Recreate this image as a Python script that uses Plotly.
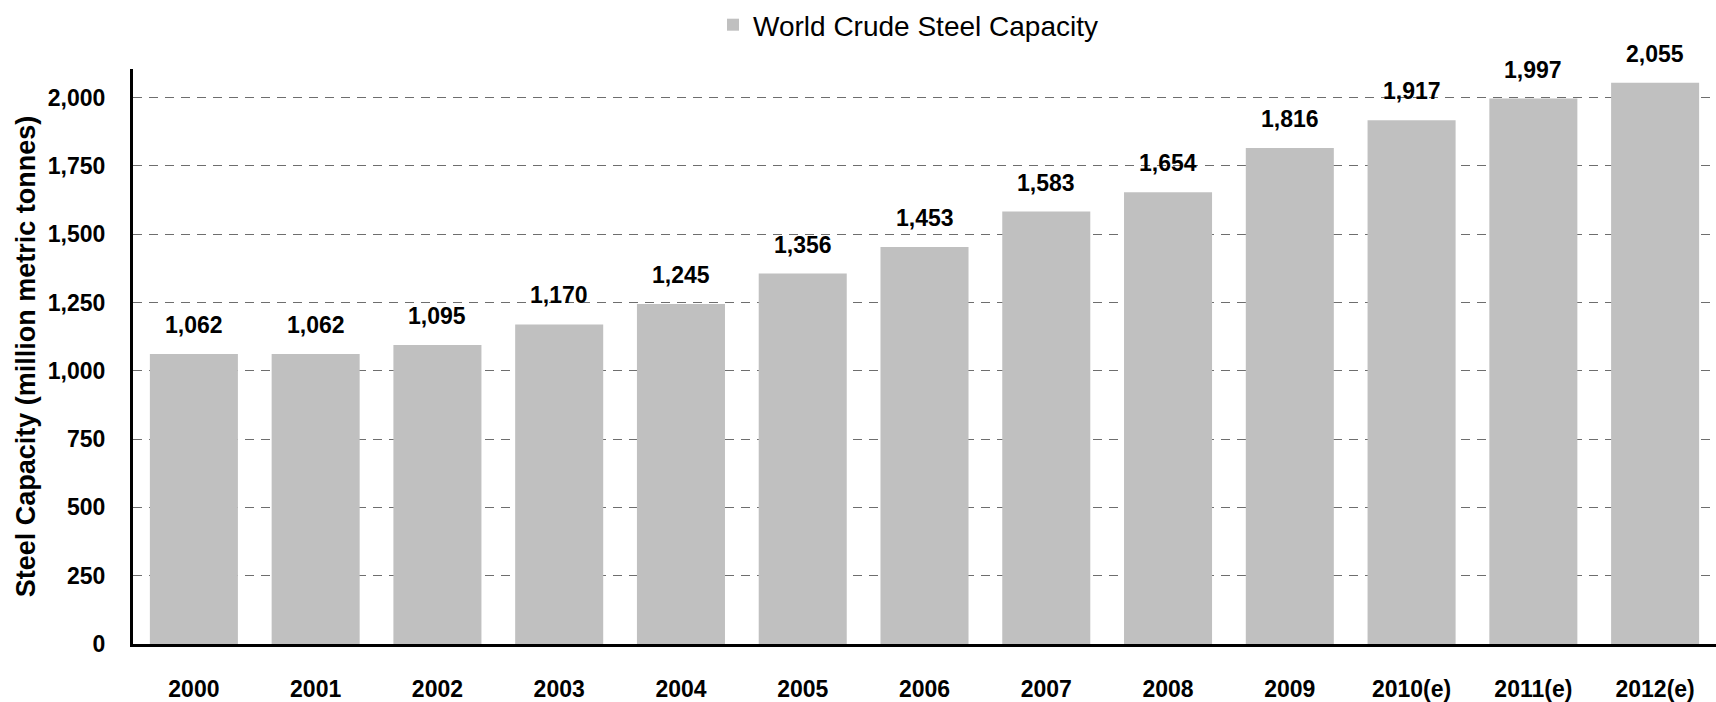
import plotly.graph_objects as go

# World crude steel capacity, million metric tonnes
years = ["2000", "2001", "2002", "2003", "2004", "2005", "2006",
         "2007", "2008", "2009", "2010(e)", "2011(e)", "2012(e)"]
capacity = [1062, 1062, 1095, 1170, 1245, 1356, 1453,
            1583, 1654, 1816, 1917, 1997, 2055]
y_ticks = [0, 250, 500, 750, 1000, 1250, 1500, 1750, 2000]

FONT = "Liberation Sans, Arial, sans-serif"
BAR_COLOR = "#C0C0C0"

fig = go.Figure()
fig.add_trace(go.Bar(
    x=years,
    y=capacity,
    name="World Crude Steel Capacity",
    marker=dict(color=BAR_COLOR, line=dict(width=0)),
    hoverinfo="x+y",
))

# value labels above each bar (category index keeps year-like strings
# from being read as positions on the category axis)
for i, val in enumerate(capacity):
    fig.add_annotation(
        x=i, y=val, text=f"{val:,}",
        xref="x", yref="y",
        showarrow=False, yanchor="bottom", yshift=14,
        font=dict(family=FONT, size=23, color="#000000", weight="bold"),
    )

fig.update_layout(
    width=1716, height=702,
    margin=dict(l=133, r=0, t=69, b=52),
    paper_bgcolor="white", plot_bgcolor="white",
    bargap=0.277,
    showlegend=True,
    legend=dict(
        orientation="h",
        xref="container", yref="container",
        x=0.4155, xanchor="left",
        y=1.0, yanchor="top",
        font=dict(family=FONT, size=28, color="#000000"),
        bgcolor="rgba(0,0,0,0)",
        itemwidth=30,
    ),
    xaxis=dict(
        type="category",
        range=[-0.5, len(years) - 0.5],
        showgrid=False,
        showline=True, linecolor="#000000", linewidth=3,
        ticks="",
        ticklabelstandoff=22,
        tickfont=dict(family=FONT, size=23, color="#000000", weight="bold"),
    ),
    yaxis=dict(
        range=[0, 2105],
        tickvals=y_ticks,
        tickformat=",",
        showline=True, linecolor="#000000", linewidth=3,
        showgrid=True, gridcolor="#6e6e6e", gridwidth=1, griddash="9px,7px",
        zeroline=False,
        ticks="",
        ticklabelstandoff=20,
        tickfont=dict(family=FONT, size=23, color="#000000", weight="bold"),
        title=dict(
            text="Steel Capacity (million metric tonnes)",
            font=dict(family=FONT, size=27, color="#000000", weight="bold"),
            standoff=5,
        ),
    ),
)

fig.write_html("out.html")
